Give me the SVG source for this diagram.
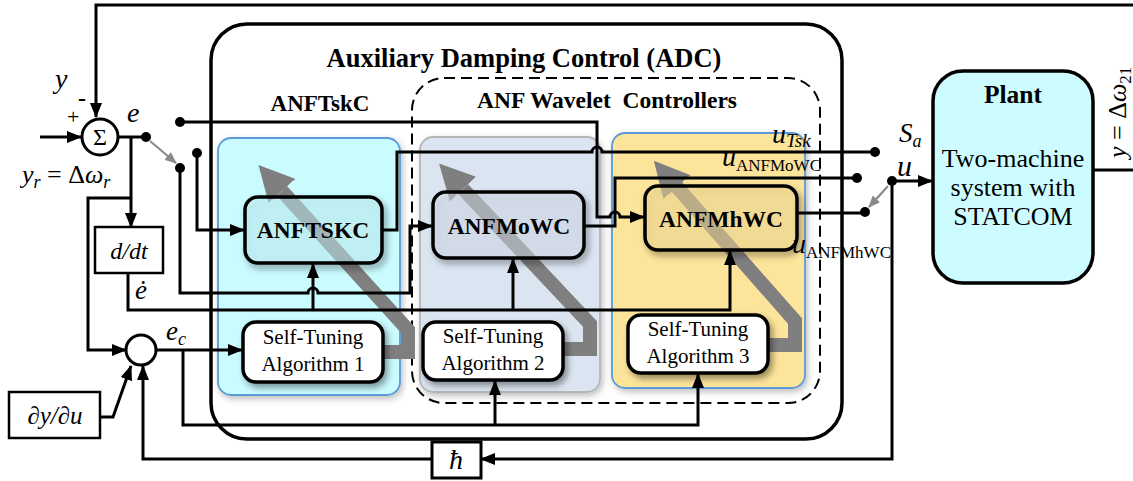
<svg xmlns="http://www.w3.org/2000/svg" width="1133" height="481" viewBox="0 0 1133 481">
<style>
.w{fill:none;stroke:#000;stroke-width:3}
.ar{marker-end:url(#a)}
.g{fill:none;stroke:#8a8a8a;stroke-width:2.2;marker-end:url(#ga)}
.big{fill:none;stroke:#7f7f7f;stroke-width:14;stroke-linejoin:miter;marker-end:url(#ba)}
.box{stroke:#000;stroke-width:3.5;filter:url(#sh)}
text{font-family:'Liberation Serif','Times New Roman','DejaVu Serif',serif;fill:#000}
.b{font-weight:bold}
.i{font-style:italic}
.dot{fill:#000}
</style>
<defs>
<marker id="a" markerUnits="userSpaceOnUse" markerWidth="15" markerHeight="12" viewBox="0 0 15 12" refX="14" refY="6" orient="auto"><path d="M0,0 L15,6 L0,12 z" fill="#000"/></marker>
<marker id="ga" markerUnits="userSpaceOnUse" markerWidth="12" markerHeight="10" viewBox="0 0 12 10" refX="11" refY="5" orient="auto"><path d="M0,0 L12,5 L0,10 z" fill="#8a8a8a"/></marker>
<marker id="ba" markerUnits="userSpaceOnUse" markerWidth="35" markerHeight="36" viewBox="0 0 35 36" refX="0" refY="18" orient="auto"><path d="M0,0 L35,18 L0,36 z" fill="#7f7f7f"/></marker>
<filter id="sh" x="-20%" y="-20%" width="140%" height="150%"><feDropShadow dx="3" dy="4" stdDeviation="3" flood-color="#000" flood-opacity="0.4"/></filter>
<filter id="psh" x="-10%" y="-10%" width="120%" height="120%"><feDropShadow dx="2" dy="3" stdDeviation="3" flood-color="#000" flood-opacity="0.25"/></filter>
</defs>

<g id="adc">
<rect x="211" y="24" width="631" height="415" rx="36" fill="none" stroke="#000" stroke-width="3.5"/>
<text class="b" x="524" y="67" font-size="26.5" text-anchor="middle" font-family="Liberation Serif, serif">Auxiliary Damping Control (ADC)</text>
</g>
<g id="anf-wavelet">
<rect x="412" y="78" width="408" height="325" rx="32" fill="none" stroke="#000" stroke-width="2" stroke-dasharray="11 6"/>
<text class="b" x="607" y="108" font-size="23.5" text-anchor="middle" xml:space="preserve" font-family="Liberation Serif, serif">ANF Wavelet  Controllers</text>
</g>
<text class="b" x="320" y="111" font-size="23" text-anchor="middle" font-family="Liberation Serif, serif">ANFTskC</text>

<g id="panel1">
<rect x="218" y="138" width="182" height="257" rx="13" fill="#c9fbff" stroke="#5b9bd5" stroke-width="1.8" filter="url(#psh)"/>
<path class="big" d="M380,352 H408 V330 L282,191"/>
</g>
<g id="panel2">
<rect x="420" y="137" width="180" height="255" rx="13" fill="#dbe5f1" stroke="#b5b5b5" stroke-width="1.8" filter="url(#psh)"/>
<path class="big" d="M560,349 H590 V324 L463,189"/>
</g>
<g id="panel3">
<rect x="612" y="133" width="193" height="255" rx="13" fill="#fde49b" stroke="#5b9bd5" stroke-width="1.8" filter="url(#psh)"/>
<path class="big" d="M765,345 H795 V321 L677,187"/>
</g>

<g id="connectors">
<path class="w ar" d="M1133,5 H96 V117"/>
<path class="w ar" d="M40,137 H81"/>
<path class="w" d="M118,137 H146"/>
<path class="w ar" d="M131,137 V227"/>
<path class="w ar" d="M131,198 H88 V350 H126"/>
<path class="g" d="M150,141 L176,163"/>
<path class="w ar" d="M180,122 H597 V217 H610 A5,5 0 0 1 620,217 H644"/>
<path class="w ar" d="M197,153 V230 H244"/>
<path class="w ar" d="M180,168 V293 H308 A5,5 0 0 1 318,293 H410 V226 H432"/>
<path class="w" d="M382,230 H397 V152 H592 A5,5 0 0 1 602,152 H875"/>
<path class="w" d="M584,226 H615 V178 H857"/>
<path class="w" d="M797,213 H865"/>
<path class="g" d="M888,186 L869,207"/>
<path class="w ar" d="M892,181 H932"/>
<path class="w ar" d="M892,181 V459 H481"/>
<path class="w ar" d="M432,459 H143 V366"/>
<path class="w ar" d="M128,273 V310 H730 V251"/>
<path class="w ar" d="M313,310 V264"/>
<path class="w ar" d="M513,310 V259"/>
<path class="w ar" d="M157,350 H242"/>
<path class="w ar" d="M183,350 V425 H698 V374"/>
<path class="w ar" d="M495,425 V381"/>
<path class="w ar" d="M100,417 H113 L131,366"/>
<path class="w" d="M1093,170 H1133"/>
<circle class="dot" cx="146" cy="137" r="5"/>
<circle class="dot" cx="180" cy="122" r="5"/>
<circle class="dot" cx="197" cy="153" r="5"/>
<circle class="dot" cx="180" cy="168" r="5"/>
<circle class="dot" cx="875" cy="152" r="5"/>
<circle class="dot" cx="857" cy="178" r="5"/>
<circle class="dot" cx="865" cy="212" r="5"/>
<circle class="dot" cx="892" cy="181" r="5"/>
</g>

<g id="sum">
<circle cx="100" cy="137" r="18" fill="#fff" stroke="#000" stroke-width="3"/>
<text x="100" y="145" font-size="24" text-anchor="middle" font-family="Liberation Serif, serif">Σ</text>
</g>
<g id="sum2">
<circle cx="141" cy="350" r="15" fill="#fff" stroke="#000" stroke-width="3"/>
</g>
<g id="ddt">
<rect x="95" y="227" width="68" height="46" fill="#fff" stroke="#000" stroke-width="2.5"/>
<text class="i" x="129" y="259" font-size="24" text-anchor="middle" font-family="Liberation Serif, serif">d/dt</text>
</g>
<g id="dydu">
<rect x="9" y="392" width="91" height="46" fill="#fff" stroke="#000" stroke-width="2.5"/>
<text class="i" x="55" y="424" font-size="25" text-anchor="middle" font-family="Liberation Serif, serif">∂y/∂u</text>
</g>
<g id="hbar">
<rect x="432" y="442" width="49" height="36" fill="#fff" stroke="#000" stroke-width="3"/>
<text class="i" x="456" y="469" font-size="28" text-anchor="middle" font-family="Liberation Serif, serif">ħ</text>
</g>

<g id="anftskc">
<rect class="box" x="245" y="197" width="137" height="66" rx="13" fill="#c9fbff" fill-opacity="0.45"/>
<text class="b" x="313" y="238" font-size="23.5" text-anchor="middle" font-family="Liberation Serif, serif">ANFTSKC</text>
</g>
<g id="anfmowc">
<rect class="box" x="433" y="192" width="151" height="66" rx="13" fill="#dbe5f1" fill-opacity="0.45"/>
<text class="b" x="509" y="234" font-size="23.5" text-anchor="middle" font-family="Liberation Serif, serif">ANFMoWC</text>
</g>
<g id="anfmhwc">
<rect class="box" x="645" y="186" width="152" height="64" rx="13" fill="#fde49b" fill-opacity="0.45"/>
<text class="b" x="721" y="227" font-size="23.5" text-anchor="middle" font-family="Liberation Serif, serif">ANFMhWC</text>
</g>
<g id="sta1">
<rect class="box" x="243" y="322" width="140" height="60" rx="13" fill="#fff"/>
<text x="313" y="344" font-size="21" text-anchor="middle" font-family="Liberation Serif, serif">Self-Tuning</text>
<text x="313" y="371" font-size="21" text-anchor="middle" font-family="Liberation Serif, serif">Algorithm 1</text>
</g>
<g id="sta2">
<rect class="box" x="423" y="322" width="140" height="58" rx="13" fill="#fff"/>
<text x="493" y="343" font-size="21" text-anchor="middle" font-family="Liberation Serif, serif">Self-Tuning</text>
<text x="493" y="370" font-size="21" text-anchor="middle" font-family="Liberation Serif, serif">Algorithm 2</text>
</g>
<g id="sta3">
<rect class="box" x="628" y="315" width="140" height="58" rx="13" fill="#fff"/>
<text x="698" y="336" font-size="21" text-anchor="middle" font-family="Liberation Serif, serif">Self-Tuning</text>
<text x="698" y="363" font-size="21" text-anchor="middle" font-family="Liberation Serif, serif">Algorithm 3</text>
</g>
<g id="plant">
<rect x="933" y="71" width="160" height="212" rx="30" fill="#ccfcff" stroke="#000" stroke-width="3.5"/>
<text class="b" x="1013" y="103" font-size="25.5" text-anchor="middle" font-family="Liberation Serif, serif">Plant</text>
<text x="1013" y="167" font-size="26" text-anchor="middle" font-family="Liberation Serif, serif">Two-machine</text>
<text x="1013" y="196" font-size="26" text-anchor="middle" font-family="Liberation Serif, serif">system with</text>
<text x="1013" y="225" font-size="26" text-anchor="middle" font-family="Liberation Serif, serif">STATCOM</text>
</g>

<g id="labels" font-family="Liberation Serif, serif">
<text class="i" x="55" y="88" font-size="28" font-family="Liberation Serif, serif">y</text>
<text class="b" x="78" y="106" font-size="24" font-family="Liberation Serif, serif">-</text>
<text x="67" y="124" font-size="22" font-family="Liberation Serif, serif">+</text>
<text class="i" x="127" y="122" font-size="28" font-family="Liberation Serif, serif">e</text>
<text x="22" y="183" font-size="26" font-family="Liberation Serif, serif"><tspan class="i">y</tspan><tspan class="i" font-size="18" dy="5">r</tspan><tspan dy="-5"> = Δ</tspan><tspan class="i">ω</tspan><tspan class="i" font-size="18" dy="5">r</tspan></text>
<text class="i" x="135" y="299" font-size="27" font-family="Liberation Serif, serif">ė</text>
<text class="i" x="166" y="340" font-size="27" font-family="Liberation Serif, serif">e<tspan font-size="18" dy="5">c</tspan></text>
<text class="i" x="772" y="143" font-size="28" font-family="Liberation Serif, serif">u<tspan font-size="19" dy="4">Tsk</tspan></text>
<text x="722" y="166" font-size="28" font-family="Liberation Serif, serif"><tspan class="i">u</tspan><tspan font-size="17" dy="5">ANFMoWC</tspan></text>
<text x="792" y="253" font-size="28" font-family="Liberation Serif, serif"><tspan class="i">u</tspan><tspan font-size="17" dy="5">ANFMhWC</tspan></text>
<text class="i" x="899" y="142" font-size="27" font-family="Liberation Serif, serif">S<tspan font-size="18" dy="5">a</tspan></text>
<text class="i" x="897" y="176" font-size="30" font-family="Liberation Serif, serif">u</text>
<text transform="translate(1126,158) rotate(-90)" font-size="26" font-family="Liberation Serif, serif"><tspan class="i">y</tspan> = Δ<tspan class="i">ω</tspan><tspan font-size="17" dy="5">21</tspan></text>
</g>
</svg>
